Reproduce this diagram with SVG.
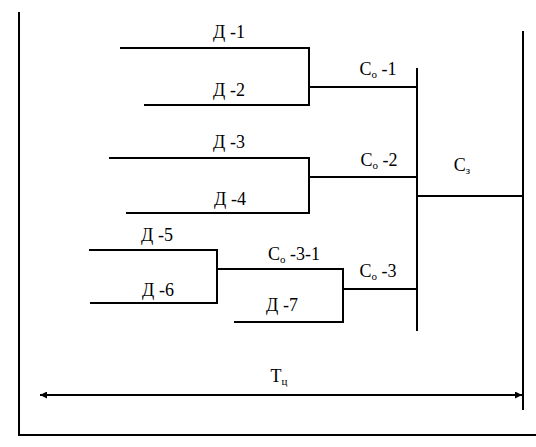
<svg xmlns="http://www.w3.org/2000/svg" width="536" height="447" viewBox="0 0 536 447">
<defs>
<style>
.l{stroke:#000;stroke-width:2;fill:none}
text{font-family:"Liberation Serif",serif;font-size:18px;fill:#000;text-anchor:middle}
.s{font-size:11px}
</style>
<marker id="ah" viewBox="0 0 10 10" refX="10" refY="5" markerWidth="10" markerHeight="7" markerUnits="userSpaceOnUse" orient="auto-start-reverse">
<path d="M0,0 L10,5 L0,10 z" fill="#000"/>
</marker>
</defs>
<rect width="536" height="447" fill="#fff"/>
<g id="frame">
<path class="l" d="M19,12 V435 H536"/>
<line class="l" x1="523" y1="31" x2="523" y2="410"/>
</g>
<g id="connectors">
<path class="l" d="M120,48 H309 V105 H144"/>
<path class="l" d="M309,87 H417"/>
<path class="l" d="M109,158 H309 V213 H126"/>
<path class="l" d="M309,177 H417"/>
<path class="l" d="M89,250 H217 V303 H90"/>
<path class="l" d="M217,269 H343 V322 H234"/>
<path class="l" d="M343,289 H417"/>
<line class="l" x1="417" y1="68" x2="417" y2="331"/>
<line class="l" x1="417" y1="196" x2="524" y2="196"/>
<line class="l" x1="40" y1="395" x2="522" y2="395" marker-start="url(#ah)" marker-end="url(#ah)"/>
</g>
<g font-family="Liberation Serif, serif" font-size="18" text-anchor="middle">
<g id="d1"><text x="229" y="38">Д -1</text></g>
<g id="d2"><text x="229" y="96">Д -2</text></g>
<g id="d3"><text x="229" y="148">Д -3</text></g>
<g id="d4"><text x="230" y="205">Д -4</text></g>
<g id="d5"><text x="157" y="241">Д -5</text></g>
<g id="d6"><text x="158" y="296">Д -6</text></g>
<g id="d7"><text x="282" y="311">Д -7</text></g>
<g id="co1"><text x="378" y="75">С<tspan class="s" dy="3">о</tspan><tspan dy="-3"> -1</tspan></text></g>
<g id="co2"><text x="379" y="166">С<tspan class="s" dy="3">о</tspan><tspan dy="-3"> -2</tspan></text></g>
<g id="co31"><text x="294" y="260">С<tspan class="s" dy="3">о</tspan><tspan dy="-3"> -3-1</tspan></text></g>
<g id="co3"><text x="378" y="277">С<tspan class="s" dy="3">о</tspan><tspan dy="-3"> -3</tspan></text></g>
<g id="cz"><text x="462" y="171">С<tspan class="s" dy="3">з</tspan></text></g>
<g id="tc"><text x="279" y="382">Т<tspan class="s" dy="3">ц</tspan></text></g>
</g>
</svg>
